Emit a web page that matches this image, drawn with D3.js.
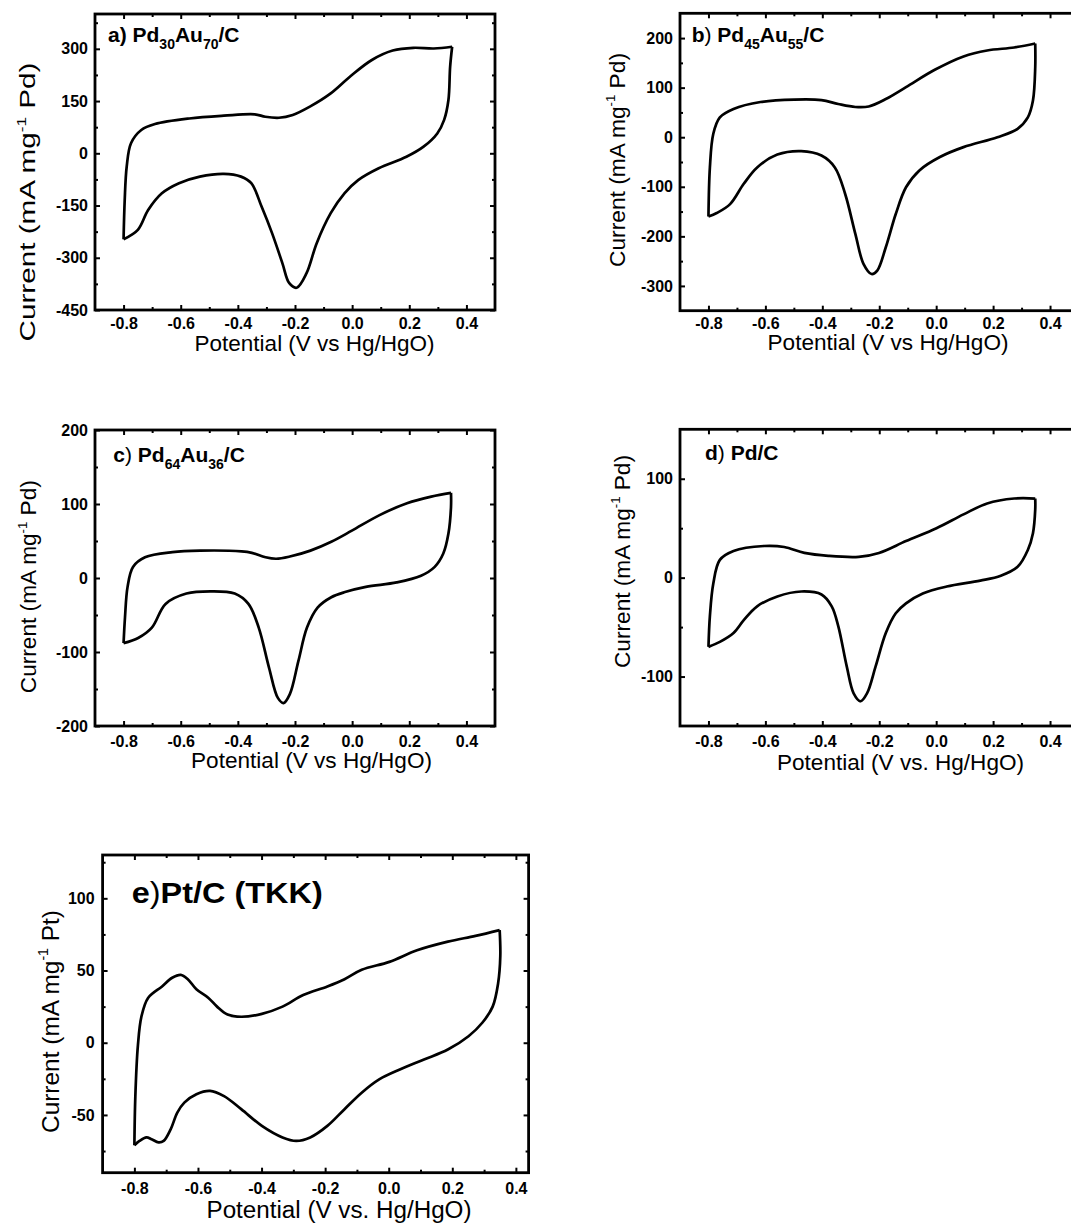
<!DOCTYPE html>
<html>
<head>
<meta charset="utf-8">
<script src="https://cdn.jsdelivr.net/npm/d3@7"></script>
<style>
  body { margin: 0; background: #fff; overflow: hidden; }
  svg { display: block; }
  text { font-family: "Liberation Sans", Arial, sans-serif; }
</style>
</head>
<body>
<script>
// [potential (V), current] pairs, forward and reverse sweep
var aFwd = [[-0.8,-247],[-0.796,-134],[-0.789,-38],[-0.774,29],[-0.738,67],[-0.69,84],[-0.57,100],[-0.449,108],[-0.341,112],[-0.304,105],[-0.256,102],[-0.208,110],[-0.148,134],[-0.075,172],[-0.005,222],[0.069,268],[0.142,295],[0.214,303],[0.286,301],[0.35,306]];
var aRev = [[0.35,306],[0.343,249],[0.337,153],[0.322,96],[0.298,57],[0.25,19],[0.19,-10],[0.093,-43],[0.021,-77],[-0.027,-115],[-0.075,-172],[-0.124,-258],[-0.16,-345],[-0.194,-386],[-0.22,-373],[-0.244,-316],[-0.28,-230],[-0.317,-153],[-0.353,-86],[-0.389,-67],[-0.449,-59],[-0.533,-67],[-0.606,-86],[-0.666,-115],[-0.714,-163],[-0.75,-220],[-0.8,-247]];

var bFwd = [[-0.8,-160],[-0.795,-61],[-0.783,7],[-0.76,40],[-0.712,57],[-0.617,71],[-0.498,76],[-0.403,75],[-0.344,67],[-0.284,61],[-0.237,62],[-0.177,77],[-0.106,101],[-0.005,136],[0.096,163],[0.179,175],[0.274,181],[0.348,189]];
var bRev = [[0.348,189],[0.348,141],[0.34,74],[0.322,40],[0.286,17],[0.215,0],[0.096,-20],[0.013,-40],[-0.059,-67],[-0.106,-101],[-0.142,-155],[-0.177,-222],[-0.207,-269],[-0.227,-276],[-0.255,-256],[-0.284,-195],[-0.32,-114],[-0.356,-61],[-0.403,-37],[-0.474,-28],[-0.558,-35],[-0.629,-61],[-0.676,-94],[-0.724,-135],[-0.771,-153],[-0.8,-160]];

var cFwd = [[-0.8,-88],[-0.795,-53],[-0.786,-12],[-0.767,15],[-0.725,28],[-0.629,35],[-0.532,37],[-0.387,36],[-0.351,34],[-0.303,28],[-0.266,26],[-0.218,29],[-0.146,37],[-0.073,49],[-0.001,64],[0.096,85],[0.192,101],[0.277,110],[0.346,115]];
var cRev = [[0.346,115],[0.346,96],[0.337,60],[0.319,33],[0.289,15],[0.241,3],[0.156,-6],[0.048,-12],[-0.025,-19],[-0.073,-26],[-0.121,-40],[-0.158,-67],[-0.188,-112],[-0.218,-157],[-0.24,-169],[-0.26,-162],[-0.291,-121],[-0.327,-67],[-0.363,-35],[-0.411,-21],[-0.496,-18],[-0.58,-21],[-0.653,-35],[-0.701,-67],[-0.749,-81],[-0.8,-88]];

var dFwd = [[-0.8,-70],[-0.795,-39],[-0.783,-6],[-0.76,18],[-0.712,27],[-0.605,32],[-0.534,31],[-0.463,25],[-0.379,22],[-0.272,21],[-0.201,25],[-0.106,37],[0.001,50],[0.096,64],[0.179,75],[0.274,80],[0.348,80]];
var dRev = [[0.348,80],[0.348,69],[0.34,45],[0.322,28],[0.286,11],[0.227,2],[0.155,-3],[0.037,-9],[-0.047,-16],[-0.106,-26],[-0.142,-36],[-0.177,-56],[-0.213,-90],[-0.243,-117],[-0.266,-125],[-0.29,-117],[-0.314,-90],[-0.344,-49],[-0.367,-29],[-0.403,-17],[-0.474,-14],[-0.558,-19],[-0.629,-29],[-0.676,-43],[-0.712,-56],[-0.76,-65],[-0.8,-70]];

var eFwd = [[-0.8,-71],[-0.797,-37],[-0.789,-2],[-0.778,18],[-0.757,31],[-0.713,39],[-0.681,45],[-0.654,47],[-0.632,44],[-0.605,37],[-0.567,31],[-0.54,25],[-0.507,19.5],[-0.464,18],[-0.399,20],[-0.334,25],[-0.269,33],[-0.193,39],[-0.139,44],[-0.085,50.5],[0.002,56],[0.089,64],[0.186,70],[0.273,74],[0.349,78]];
var eRev = [[0.349,78],[0.351,60],[0.344,41],[0.327,25],[0.295,14],[0.251,4.5],[0.186,-4.7],[0.111,-11.6],[0.035,-18.5],[-0.03,-25.4],[-0.085,-34.6],[-0.139,-46],[-0.193,-57.6],[-0.247,-65.6],[-0.291,-68],[-0.334,-65.6],[-0.399,-57.6],[-0.464,-46],[-0.518,-37],[-0.562,-33.4],[-0.605,-35.7],[-0.643,-41.5],[-0.665,-48.4],[-0.686,-60],[-0.708,-68],[-0.724,-69],[-0.746,-66.8],[-0.762,-65.6],[-0.784,-68],[-0.8,-71]];

// tick values
var xTicks = [-0.8, -0.6, -0.4, -0.2, 0.0, 0.2, 0.4];
var xMinor = [-0.7, -0.5, -0.3, -0.1, 0.1, 0.3];
var yTicksA = [300, 150, 0, -150, -300, -450], yMinorA = [375, 225, 75, -75, -225, -375];
var yTicksB = [200, 100, 0, -100, -200, -300], yMinorB = [150, 50, -50, -150, -250];
var yTicksC = [200, 100, 0, -100, -200], yMinorC = [150, 50, -50, -150];
var yTicksD = [100, 0, -100], yMinorD = [50, -50];
var yTicksE = [100, 50, 0, -50], yMinorE = [125, 75, 25, -25, -75];

const w = 1071, h = 1226;

const svg = d3.select("body")
              .append("svg")
              .attr("width", w)
              .attr("height", h);

var panels = [
  {fwd: aFwd, rev: aRev, yTicks: yTicksA, yMinor: yMinorA, xDom: [-0.9, 0.5], yDom: [-450, 400],
   left: 95, right: 495, top: 14, bottom: 310, padX: 7.5, padY: 7,
   letter: "a", boldParen: true, name: ["Pd", "30", "Au", "70", "/C"], lx: 108, ly: 42,
   xt: "Potential (V vs Hg/HgO)", xcx: 314.6, xby: 351, xlen: 240, xfs: 22,
   unit: "Pd", ybx: 35, ycy: 202, ylen: 279, yfs: 22},
  {fwd: bFwd, rev: bRev, yTicks: yTicksB, yMinor: yMinorB, xDom: [-0.9, 0.5], yDom: [-350, 250],
   left: 680, right: 1078.5, top: 13.3, bottom: 310.7, padX: 7, padY: 7,
   letter: "b", name: ["Pd", "45", "Au", "55", "/C"], lx: 691.7, ly: 41.7,
   xt: "Potential (V vs Hg/HgO)", xcx: 888, xby: 350, xlen: 241, xfs: 22,
   unit: "Pd", ybx: 624.5, ycy: 160, ylen: 214, yfs: 22},
  {fwd: cFwd, rev: cRev, yTicks: yTicksC, yMinor: yMinorC, xDom: [-0.9, 0.5], yDom: [-200, 200],
   left: 95, right: 495, top: 430, bottom: 726, padX: 9.3, padY: 7,
   letter: "c", name: ["Pd", "64", "Au", "36", "/C"], lx: 113.3, ly: 461.7,
   xt: "Potential (V vs Hg/HgO)", xcx: 311.5, xby: 768, xlen: 241, xfs: 22,
   unit: "Pd", ybx: 36, ycy: 586.7, ylen: 213, yfs: 22},
  {fwd: dFwd, rev: dRev, yTicks: yTicksD, yMinor: yMinorD, xDom: [-0.9, 0.5], yDom: [-150, 150],
   left: 680, right: 1078.5, top: 429.3, bottom: 726, padX: 9.3, padY: 7,
   letter: "d", name: ["Pd/C"], lx: 705, ly: 460,
   xt: "Potential (V vs. Hg/HgO)", xcx: 900.5, xby: 770, xlen: 247, xfs: 22,
   unit: "Pd", ybx: 629.5, ycy: 561.5, ylen: 213, yfs: 22},
  {fwd: eFwd, rev: eRev, yTicks: yTicksE, yMinor: yMinorE, xDom: [-0.9, 0.44], yDom: [-90, 130],
   left: 102.6, right: 528.6, top: 855, bottom: 1172.7, padX: 9.5, padY: 8,
   letter: "e", big: true, name: ["Pt/C (TKK)"], lx: 131.7, ly: 903.3,
   xt: "Potential (V vs. Hg/HgO)", xcx: 339, xby: 1218, xlen: 265, xfs: 23,
   unit: "Pt", ybx: 58.5, ycy: 1021.5, ylen: 223, yfs: 24}
];

panels.forEach(drawPanel);

function drawPanel(p) {
    const x = d3.scaleLinear().domain(p.xDom).range([p.left, p.right]);
    const y = d3.scaleLinear().domain(p.yDom).range([p.bottom, p.top]);
    const g = svg.append("g");

    const line = d3.line()
                   .x(d => x(d[0]))
                   .y(d => y(d[1]))
                   .curve(d3.curveCatmullRom.alpha(0.5));

    [p.fwd, p.rev].forEach(pts => {
        g.append("path")
         .attr("d", line(pts))
         .attr("fill", "none")
         .attr("stroke", "#000")
         .attr("stroke-width", 2.7)
         .attr("stroke-linejoin", "round");
    });

    // axes, ticks pointing inward, mirrored on top and right
    function axis(gen, tx, ty, vals, size, pad, labels) {
        const ax = gen.tickValues(vals).tickSize(size).tickPadding(pad);
        if (!labels) ax.tickFormat("");
        const a = g.append("g")
                   .attr("transform", "translate(" + tx + "," + ty + ")")
                   .call(ax);
        a.select(".domain").remove();
        a.selectAll("line").attr("stroke", "#000").attr("stroke-width", 2);
        a.selectAll("text")
         .attr("fill", "#000")
         .attr("font-size", 16)
         .attr("font-weight", "bold")
         .attr("font-family", '"Liberation Sans", Arial, sans-serif');
        return a;
    }
    axis(d3.axisBottom(x).tickFormat(d => d.toFixed(1)), 0, p.bottom, xTicks, -5, p.padX, true);
    axis(d3.axisBottom(x), 0, p.bottom, xMinor, -3, 0, false);
    axis(d3.axisTop(x), 0, p.top, xTicks, -5, 0, false);
    axis(d3.axisTop(x), 0, p.top, xMinor, -3, 0, false);
    axis(d3.axisLeft(y).tickFormat(d => String(d)), p.left, 0, p.yTicks, -5, p.padY, true);
    axis(d3.axisLeft(y), p.left, 0, p.yMinor, -3, 0, false);
    axis(d3.axisRight(y), p.right, 0, p.yTicks, -5, 0, false);
    axis(d3.axisRight(y), p.right, 0, p.yMinor, -3, 0, false);

    g.append("rect")
     .attr("x", p.left)
     .attr("y", p.top)
     .attr("width", p.right - p.left)
     .attr("height", p.bottom - p.top)
     .attr("fill", "none")
     .attr("stroke", "#000")
     .attr("stroke-width", 2.8);

    // panel label
    const fs = p.big ? 30 : 21;
    const lab = g.append("text")
                 .attr("x", p.lx)
                 .attr("y", p.ly)
                 .attr("font-size", fs)
                 .attr("font-weight", "bold");
    lab.append("tspan").text(p.letter);
    lab.append("tspan").attr("font-weight", p.boldParen ? "bold" : "normal").text(")" + (p.big ? "" : " "));
    if (p.name.length > 1) {
        lab.append("tspan").text(p.name[0]);
        lab.append("tspan").attr("font-size", 14).attr("dy", 7).text(p.name[1]);
        lab.append("tspan").attr("dy", -7).text(p.name[2]);
        lab.append("tspan").attr("font-size", 14).attr("dy", 7).text(p.name[3]);
        lab.append("tspan").attr("dy", -7).text(p.name[4]);
    } else {
        lab.append("tspan").text(p.name[0]);
    }
    if (p.big) lab.attr("textLength", 191).attr("lengthAdjust", "spacingAndGlyphs");

    // axis titles
    g.append("text")
     .attr("x", p.xcx)
     .attr("y", p.xby)
     .attr("text-anchor", "middle")
     .attr("font-size", p.xfs)
     .attr("textLength", p.xlen)
     .attr("lengthAdjust", "spacingAndGlyphs")
     .text(p.xt);

    const yt = g.append("text")
                .attr("transform", "translate(" + p.ybx + "," + p.ycy + ")rotate(-90)")
                .attr("text-anchor", "middle")
                .attr("font-size", p.yfs)
                .attr("textLength", p.ylen)
                .attr("lengthAdjust", "spacingAndGlyphs");
    yt.append("tspan").text("Current (mA mg");
    yt.append("tspan").attr("font-size", p.yfs * 0.58).attr("dy", -p.yfs * 0.42).text("-1");
    yt.append("tspan").attr("dy", p.yfs * 0.42).text(" " + p.unit + ")");
}
</script>
</body>
</html>
